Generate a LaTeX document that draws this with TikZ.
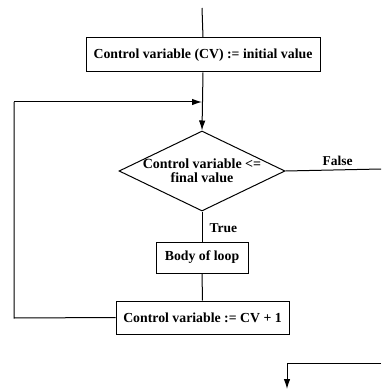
\documentclass[tikz,border=0pt]{standalone}
\usepackage{fontspec}
\setmainfont{Liberation Serif}
\usetikzlibrary{arrows.meta,shapes.geometric}
\begin{document}
\begin{tikzpicture}[x=1pt,y=-1pt,
  line width=1pt,
  every node/.style={font=\bfseries\fontsize{13.8}{16}\selectfont},
  procbox/.style={draw,rectangle,inner sep=0pt},
  branchlabel/.style={inner sep=0pt,font=\bfseries\fontsize{13.5}{15}\selectfont},
  tip/.style={-{Latex[length=10pt,width=6.5pt]}}]
\useasboundingbox (0,0) rectangle (381,390);

% boxes and decision
\node[procbox,minimum width=234pt,minimum height=34pt] (init) at (203,55) {Control variable (CV) := initial value};
\node[draw,diamond,minimum width=166pt,minimum height=80pt,inner sep=0pt] (test) at (202,171) {};
\node[align=center,font=\bfseries\fontsize{14}{14}\selectfont] (testtxt) at (202,171) {Control variable <=\\final value};
\node[procbox,minimum width=92pt,minimum height=31pt] (body) at (202,257.5) {Body of loop};
\node[procbox,minimum width=173pt,minimum height=33pt] (incr) at (202.5,317.5) {Control variable := CV + 1};

% free ends and corners
\coordinate (entry) at (202,8);
\coordinate (merge) at (202,102);
\coordinate (loopbot) at (14,318);
\coordinate (looptop) at (14,102);
\coordinate (falseend) at (381,169);
\coordinate (exitin) at (381,363);
\coordinate (exitcorner) at (287,363);
\coordinate (exitend) at (287,389);

% connectors
\draw (entry) -- (init.north);
\draw[tip] (init.south) -- (test.north);
\draw (incr.west) -- (loopbot) -- (looptop);
\draw[tip] (looptop) -- (merge);
\draw (test.east) -- (falseend);
\draw (test.south) -- (body.north);
\draw (body.south) -- (incr.north);
\draw[tip] (exitin) -- (exitcorner) -- (exitend);

% branch labels
\node[branchlabel,anchor=south west] (flabel) at (322,166) {False};
\node[branchlabel,anchor=west] (tlabel) at (209,228) {True};
\end{tikzpicture}
\end{document}
